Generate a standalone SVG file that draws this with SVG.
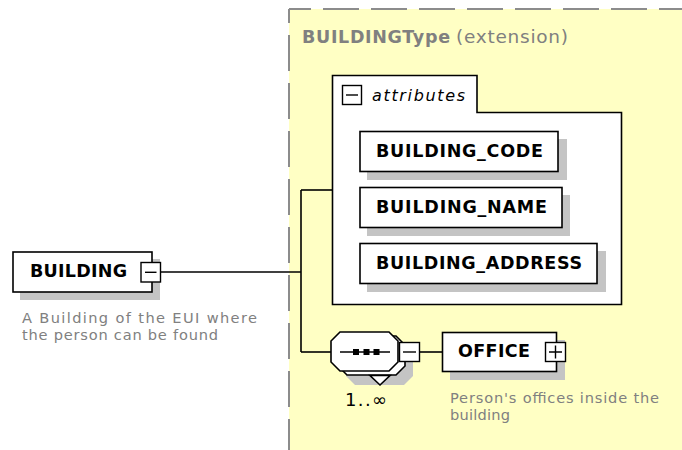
<svg xmlns="http://www.w3.org/2000/svg" width="682" height="450" viewBox="0 0 682 450">
  <style>
    .box { fill: #ffffff; stroke: #000000; stroke-width: 1.6; }
    .shadow { fill: #c4c4c4; stroke: none; }
    .btn { fill: #ffffff; stroke: #000000; stroke-width: 1.4; }
    .glyph { stroke: #000000; stroke-width: 1.4; fill: none; }
    .wire { stroke: #000000; stroke-width: 1.6; fill: none; }
    .frame { stroke: #8c8c8c; stroke-width: 2; fill: none; stroke-dasharray: 36 12; }
    .name { font-family: "DejaVu Sans", Verdana, sans-serif; font-weight: bold; font-size: 17.5px; fill: #000000; }
    .title { font-family: "DejaVu Sans", Verdana, sans-serif; font-weight: bold; font-size: 17.5px; fill: #808080; }
    .sub { font-family: "DejaVu Sans", Verdana, sans-serif; font-size: 18.5px; fill: #808080; }
    .doc { font-family: "DejaVu Sans", Verdana, sans-serif; font-size: 14.6px; fill: #808080; }
    .italic { font-family: "DejaVu Sans", Verdana, sans-serif; font-style: italic; font-size: 16px; fill: #000000; }
    .occ { font-family: "DejaVu Sans", Verdana, sans-serif; font-size: 18px; fill: #000000; }
  </style>
  <defs>
    <polygon id="oct" points="340,332 389,332 398,341 398,362 389,371 340,371 331,362 331,341"/>
  </defs>

  <rect width="682" height="450" fill="#ffffff"/>

  <!-- complex type region -->
  <g id="BUILDINGType">
    <rect x="289" y="9" width="393" height="441" fill="#ffffc4"/>
    <line class="frame" x1="289" y1="9" x2="682" y2="9" stroke-dashoffset="14"/>
    <line class="frame" x1="289" y1="9" x2="289" y2="450" stroke-dashoffset="22"/>
    <text class="title" x="302" y="43" textLength="148">BUILDINGType</text>
    <text class="sub" x="456" y="43" textLength="112">(extension)</text>
  </g>

  <!-- connectors -->
  <g id="connectors">
    <path class="wire" d="M161,272 H301"/>
    <path class="wire" d="M301,190 V352"/>
    <path class="wire" d="M301,190 H332"/>
    <path class="wire" d="M301,352 H331"/>
    <path class="wire" d="M420,352 H442"/>
  </g>

  <!-- root element -->
  <g id="BUILDING">
    <rect class="shadow" x="20" y="259" width="140" height="41"/>
    <rect class="box" x="13" y="252" width="139" height="40"/>
    <text class="name" x="30" y="277" textLength="97">BUILDING</text>
    <rect class="btn" x="141" y="262.5" width="19.5" height="19.5"/>
    <path class="glyph" d="M145,272.3 H156.5"/>
    <text class="doc" x="22" y="323" textLength="235">A Building of the EUI where</text>
    <text class="doc" x="22" y="340" textLength="196">the person can be found</text>
  </g>

  <!-- attribute group -->
  <g id="attributes">
    <polygon class="box" points="332.5,75.5 477,75.5 477,112.5 621.5,112.5 621.5,304.5 332.5,304.5"/>
    <rect class="btn" x="342.5" y="85.5" width="19" height="19"/>
    <path class="glyph" d="M346,95 H358"/>
    <text class="italic" x="372" y="101" textLength="93">attributes</text>
  </g>

  <g id="BUILDING_CODE">
    <rect class="shadow" x="367" y="139" width="200" height="41"/>
    <rect class="box" x="360" y="131.5" width="198" height="40"/>
    <text class="name" x="376" y="157" textLength="167">BUILDING_CODE</text>
  </g>

  <g id="BUILDING_NAME">
    <rect class="shadow" x="367" y="195" width="203" height="41"/>
    <rect class="box" x="360" y="187.5" width="202" height="40"/>
    <text class="name" x="376" y="213" textLength="171">BUILDING_NAME</text>
  </g>

  <g id="BUILDING_ADDRESS">
    <rect class="shadow" x="367" y="251" width="239" height="41"/>
    <rect class="box" x="360" y="243.5" width="237" height="40"/>
    <text class="name" x="376" y="269" textLength="206">BUILDING_ADDRESS</text>
  </g>

  <!-- sequence compositor, 1..unbounded -->
  <g id="sequence">
    <use href="#oct" class="shadow" transform="translate(15,14)"/>
    <use href="#oct" class="box" transform="translate(7,4)"/>
    <polygon class="box" points="370,375.5 390,375.5 380,385"/>
    <use href="#oct" class="box"/>
    <path class="wire" d="M340,352 H390"/>
    <rect x="353" y="349" width="6" height="6" fill="#000000"/>
    <rect x="363.5" y="349" width="6" height="6" fill="#000000"/>
    <rect x="373.5" y="349" width="6" height="6" fill="#000000"/>
    <rect class="btn" x="399.5" y="342.5" width="20" height="19"/>
    <path class="glyph" d="M403,352 H416"/>
    <text class="occ" x="345" y="406" textLength="42">1..∞</text>
  </g>

  <g id="OFFICE">
    <rect class="shadow" x="450" y="340" width="115" height="40"/>
    <rect class="box" x="442.5" y="332.5" width="114" height="39"/>
    <text class="name" x="458" y="357" textLength="72">OFFICE</text>
    <rect class="btn" x="545.5" y="342.5" width="20" height="19"/>
    <path class="glyph" d="M549,352 H562 M555.5,345.5 V358.5"/>
    <text class="doc" x="450" y="403" textLength="209">Person's offices inside the</text>
    <text class="doc" x="450" y="420" textLength="60">building</text>
  </g>
</svg>
